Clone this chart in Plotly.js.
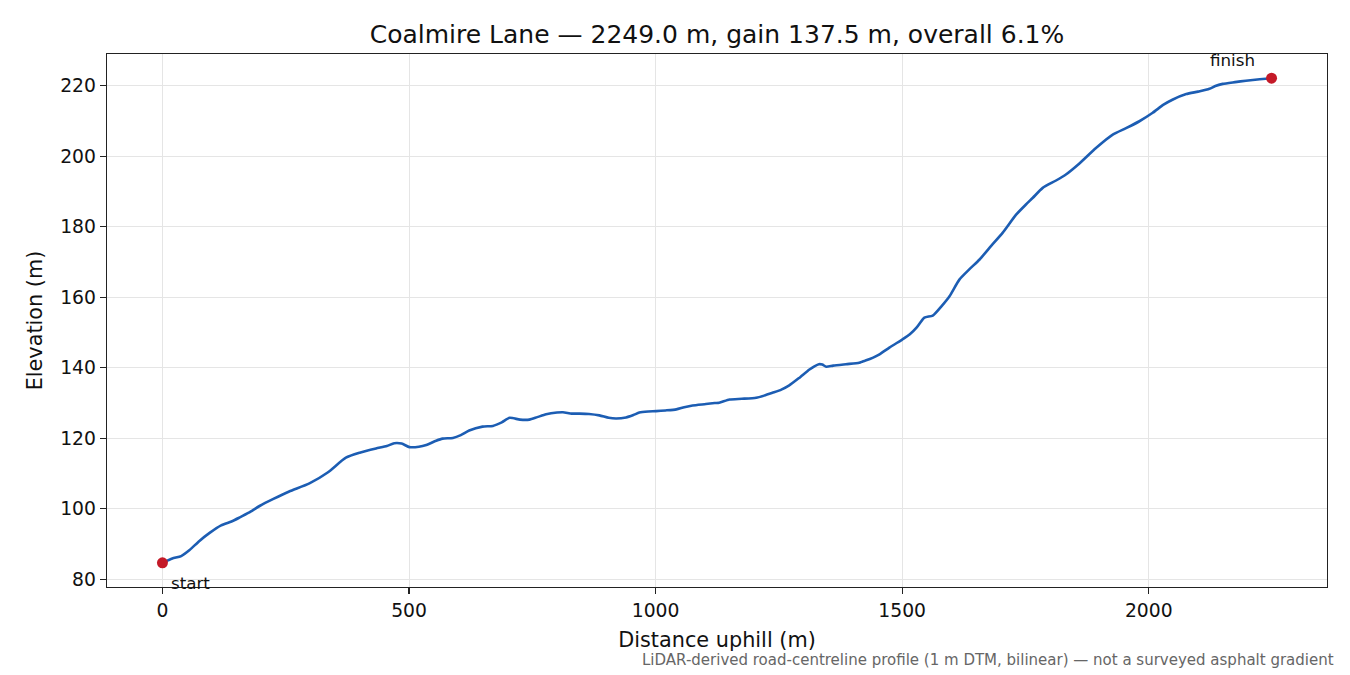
<!DOCTYPE html>
<html>
<head>
<meta charset="utf-8">
<script src="https://cdn.plot.ly/plotly-3.0.1.min.js"></script>
<style>html,body{margin:0;padding:0;background:#fff;}#chart{width:1350px;height:675px;}</style>
</head>
<body>
<div id="chart"></div>
<script>
const distance = [0,20,38,55,75,95,119,140,156,175,197,225,257,298,335,372,400,433,455,470,485,501,520,535,555,568,589,605,622,649,670,688,704,725,744,760,778,800,812,830,846,865,886,905,920,940,955,967,985,1001,1020,1042,1058,1075,1102,1120,1129,1150,1175,1204,1220,1237,1255,1271,1290,1312,1322,1331,1338,1346,1360,1386,1413,1420,1427,1440,1454,1474,1500,1515,1530,1545,1562,1580,1596,1616,1636,1657,1677,1704,1731,1751,1765,1785,1812,1832,1860,1893,1927,1955,1981,2008,2030,2048,2076,2100,2123,2135,2150,2175,2197,2225,2249];
const elevation = [84.7,85.9,86.6,88.3,90.9,93.1,95.3,96.4,97.5,98.9,100.8,102.8,104.9,107.2,110.3,114.5,115.9,117.1,117.8,118.6,118.5,117.5,117.6,118.1,119.3,119.9,120.1,120.9,122.2,123.3,123.5,124.5,125.8,125.3,125.3,126.0,126.8,127.3,127.4,127.0,127.0,126.9,126.5,125.8,125.6,125.9,126.6,127.3,127.6,127.7,127.9,128.2,128.8,129.3,129.7,130.0,130.1,131.0,131.2,131.5,132.1,132.9,133.8,135.0,137.0,139.5,140.4,141.0,140.9,140.3,140.6,141.0,141.4,141.8,142.1,142.8,143.8,145.7,148.0,149.4,151.5,154.2,154.8,157.5,160.3,165.0,167.9,170.7,174.0,178.3,183.4,186.3,188.2,191.0,193.1,194.8,198.0,202.3,206.1,208.0,209.9,212.3,214.6,216.0,217.6,218.3,219.1,219.9,220.5,221.0,221.4,221.8,222.1];
const endLabels = ["start", "finish"];
const titleText = "Coalmire Lane — 2249.0 m, gain 137.5 m, overall 6.1%";
const xLabel = "Distance uphill (m)";
const yLabel = "Elevation (m)";
const footnote = "LiDAR-derived road-centreline profile (1 m DTM, bilinear) — not a surveyed asphalt gradient";
const xTicks = [0, 500, 1000, 1500, 2000];
const yTicks = [80, 100, 120, 140, 160, 180, 200, 220];

const n = distance.length;
const endX = [distance[0], distance[n-1]];
const endY = [elevation[0], elevation[n-1]];
const xSpan = endX[1] - endX[0];
const yMin = Math.min(...elevation), yMax = Math.max(...elevation);
const ySpan = yMax - yMin;

const font = "DejaVu Sans, Liberation Sans, sans-serif";

const traces = [
  {x: distance, y: elevation, type: "scatter", mode: "lines",
   line: {color: "#1c5db3", width: 2.6, shape: "spline", smoothing: 0.6}, hoverinfo: "skip"},
  {x: endX, y: endY, type: "scatter", mode: "markers",
   marker: {color: "#c41a28", size: 11}, hoverinfo: "skip"}
];

const axisCommon = {
  showline: true, mirror: true, linecolor: "#222", linewidth: 1.3,
  ticks: "outside", ticklen: 6, tickwidth: 1.2, tickcolor: "#222",
  showgrid: true, gridcolor: "#e5e5e5", gridwidth: 1, zeroline: false,
  tickfont: {family: font, size: 18.75, color: "#111"}
};

const plotW = 1350 - 107 - 23, plotH = 675 - 54 - 88;

const layout = {
  width: 1350, height: 675,
  margin: {l: 107, r: 23, t: 54, b: 88},
  paper_bgcolor: "#fff", plot_bgcolor: "#fff",
  showlegend: false,
  font: {family: font, color: "#111"},
  title: {text: titleText, x: 0.5, xref: "paper", y: 1 - 34/675, yanchor: "middle",
          font: {family: font, size: 25, color: "#111"}},
  xaxis: Object.assign({}, axisCommon, {
    range: [endX[0] - 0.05*xSpan, endX[1] + 0.05*xSpan],
    tickvals: xTicks,
    title: {text: xLabel, font: {family: font, size: 20.8, color: "#111"}, standoff: 12}
  }),
  yaxis: Object.assign({}, axisCommon, {
    range: [yMin - 0.05*ySpan, yMax + 0.05*ySpan],
    tickvals: yTicks,
    title: {text: yLabel, font: {family: font, size: 20.8, color: "#111"}, standoff: 12}
  }),
  annotations: [
    {x: endX[0], y: endY[0], xref: "x", yref: "y", text: endLabels[0], showarrow: false,
     xanchor: "left", yanchor: "middle", xshift: 7, yshift: -20,
     font: {family: font, size: 16.7, color: "#111"}},
    {x: endX[1], y: endY[1], xref: "x", yref: "y", text: endLabels[1], showarrow: false,
     xanchor: "right", yanchor: "middle", xshift: -15, yshift: 18,
     font: {family: font, size: 16.7, color: "#111"}},
    {x: (1336 - 107) / plotW, y: -(660 - 587) / plotH, xref: "paper", yref: "paper",
     text: footnote, showarrow: false, xanchor: "right", yanchor: "middle",
     font: {family: font, size: 15, color: "#666"}}
  ]
};

Plotly.newPlot("chart", traces, layout, {staticPlot: true, displayModeBar: false});
</script>
</body>
</html>
